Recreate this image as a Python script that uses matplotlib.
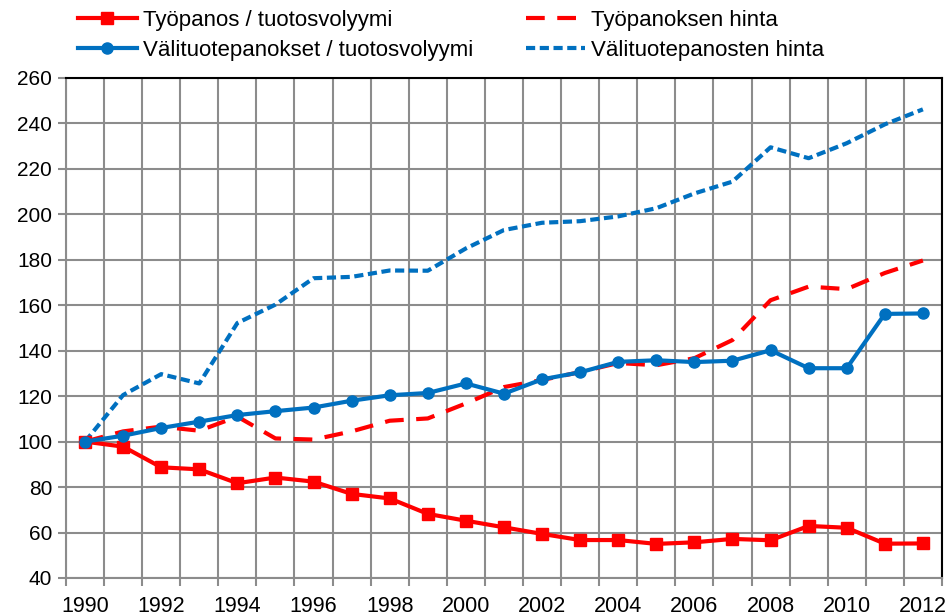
import numpy as np
import matplotlib.pyplot as plt

plt.rcParams["font.family"] = ["Liberation Sans", "DejaVu Sans"]

years = list(range(1990, 2013))
tyopanos_tuotos = [100, 97.8, 88.7, 87.8, 81.7, 84.2, 82.4, 77.0, 75.0, 68.2, 65.2, 62.3,
                   59.4, 56.7, 56.7, 55.0, 55.7, 57.2, 56.6, 62.9, 62.1, 55.1, 55.2]
tyopanos_hinta = [100, 104.5, 106.6, 104.8, 111.0, 101.4, 100.9, 104.5, 109.2, 110.2, 116.8,
                  124.0, 127.1, 130.6, 134.6, 133.6, 136.7, 144.7, 162.2, 168.2, 167.1, 174.2, 179.7]
valituote_tuotos = [100, 102.6, 106.0, 108.8, 111.7, 113.4, 115.0, 118.0, 120.4, 121.4, 125.6,
                    121.1, 127.4, 130.5, 135.1, 135.8, 135.0, 135.6, 140.2, 132.3, 132.3, 156.2, 156.4]
valituote_hinta = [100, 120.5, 129.7, 125.6, 152.2, 160.3, 171.9, 172.5, 175.3, 175.2, 185.0,
                   193.1, 196.3, 197.0, 199.1, 202.7, 209.2, 214.4, 229.5, 224.7, 231.3, 239.6, 246.2]

red = "#FF0000"
blue = "#0070C0"
grid_col = "#8C8C8C"

x = np.arange(len(years))

fig = plt.figure(figsize=(9.48, 6.16), dpi=100)
ax = fig.add_axes([0.0696, 0.0617, 0.924, 0.8117])

ax.plot(x, tyopanos_tuotos, color=red, lw=3, marker="s", ms=8.5,
        label="Työpanos / tuotosvolyymi", zorder=4)
ax.plot(x, valituote_tuotos, color=blue, lw=3, marker="o", ms=8,
        label="Välituotepanokset / tuotosvolyymi", zorder=5)
ax.plot(x, tyopanos_hinta, color=red, lw=3, dashes=(4.5, 3),
        label="Työpanoksen hinta", zorder=3)
ax.plot(x, valituote_hinta, color=blue, lw=3, dashes=(2.2, 1.1),
        label="Välituotepanosten hinta", zorder=3)

ax.set_xlim(-0.5, len(years) - 0.5)
ax.set_ylim(40, 260)
ax.set_yticks(np.arange(40, 261, 20))

# category boundaries carry ticks and grid, labels sit at category centres
ax.set_xticks(np.arange(-0.5, len(years), 1.0))
ax.set_xticklabels([])
ax.set_xticks(x[::2], minor=True)
ax.set_xticklabels([str(y) for y in years[::2]], minor=True)
ax.tick_params(axis="x", which="minor", length=0, pad=13, labelsize=15.5)
ax.tick_params(axis="x", which="major", length=6, width=1.5, color=grid_col)
ax.tick_params(axis="y", length=6, width=1.5, color=grid_col, labelsize=15, pad=4)

ax.grid(True, which="major", color=grid_col, lw=1.5)
ax.set_axisbelow(True)

for s in ["left", "bottom"]:
    ax.spines[s].set_color(grid_col)
    ax.spines[s].set_linewidth(1.5)
for s in ["top", "right"]:
    ax.spines[s].set_color("black")
    ax.spines[s].set_linewidth(1.5)

fig.legend(loc="upper left", bbox_to_anchor=(78 / 948, 1 - 10 / 616), ncol=2, frameon=False,
           fontsize=16, handlelength=2.65, handletextpad=0.27, columnspacing=2.4,
           labelspacing=0.4, borderpad=0, borderaxespad=0)

fig.savefig("out.png", dpi=100)
